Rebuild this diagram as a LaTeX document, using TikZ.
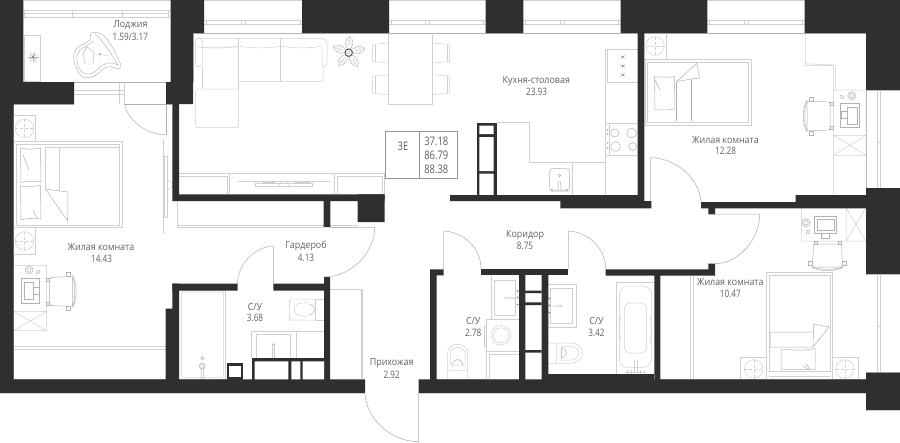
\documentclass[tikz,border=0pt]{standalone}
\usepackage{fontspec}
\setmainfont{Open Sans}
\newfontfamily\numf[FakeStretch=0.8]{Open Sans}
\newfontfamily\labf[FakeStretch=0.91]{Open Sans}
\definecolor{wallc}{HTML}{2F2F2F}
\definecolor{linec}{HTML}{D0D0D0}
\definecolor{edgec}{HTML}{B2B2B2}
\definecolor{textc}{HTML}{626262}
\tikzset{
  wall/.style={fill=wallc,draw=none},
  hole/.style={fill=white,draw=none},
  fur/.style={draw=linec,line width=.5pt},
  edge/.style={draw=edgec,line width=.55pt},
  doorl/.style={draw=edgec,line width=.55pt},
  lab/.style={text=textc,font=\labf\fontsize{9.8}{10}\selectfont,inner sep=0pt},
  num/.style={text=textc,font=\numf\fontsize{10.2}{11}\selectfont,inner sep=0pt},
  big/.style={text=textc,font=\numf\fontsize{11.8}{12}\selectfont,inner sep=0pt},
  pics/deskchair/.style={code={
    \draw[fur,rounded corners=2pt,draw=edgec] (-12,-14) -- (11,-15) -- (11,15) -- (-12,14) -- cycle;
    \draw[fur,draw=edgec] (11,-16) .. controls (16,-8) and (16,8) .. (11,16);
    \draw[fur,draw=edgec] (11,-15) .. controls (14,-8) and (14,8) .. (11,15);
    \draw[fur,draw=edgec] (-15,-13.5) rectangle (-12,-10.5) (-15,10.5) rectangle (-12,13.5);
    \draw[fur,draw=edgec] (5,-19) rectangle (9,-15) (5,15) rectangle (9,19);
  }},
  pics/nstand/.style={code={
    \draw[fur] (0,0) circle (9.3);
    \draw[fur,densely dashed,line width=.35pt] (-9.3,0) -- (9.3,0) (0,-9.3) -- (0,9.3);
  }},
  pics/flower/.style={code={
    \foreach \a in {15,87,159,231,303}{
      \draw[fur,draw=edgec,line width=.45pt,rotate=\a] (2.5,0) .. controls (6,-5) and (13,-5) .. (16.5,0) .. controls (13,5) and (6,5) .. (2.5,0);
      \draw[fur,rotate=\a,line width=.35pt] (3,0) -- (16,0) (7,-3) -- (10,0) -- (7,3) (10,-3) -- (13,0) -- (10,3);
    }
    \draw[draw=wallc!85,line width=.9pt,fill=white] (0,0) circle (3.7);
    \draw[edgec,line width=.35pt] (0,0) circle (1.7);
  }}
}
\begin{document}
\begin{tikzpicture}[x=1pt,y=-1pt]
\useasboundingbox (0,0) rectangle (900,442);
\fill[white] (0,0) rectangle (900,442);

% ---- room outlines and windows
\draw[fur] (23,.6) -- (171,.6) (204,.6) -- (302,.6) (389,.6) -- (486,.6) (523,.6) -- (621,.6) (707,.6) -- (805,.6);
\draw[edge] (23.3,82) -- (170.7,82) (193,33.3) -- (804.7,33.3) (804.7,33.3) -- (866,33.3);
\draw[edge] (193,33.3) -- (193,82) (124,104) -- (172,104) (13.5,104) -- (74,104) (13.7,104) -- (13.7,379.3) (13.7,379.3) -- (165.7,379.3);
\draw[edge] (866,33.3) -- (866,195) (179,379) -- (227,379) (660,379.3) -- (866,379.3) (436.7,379.3) -- (519,379.3);
% loggia window
\draw[fur] (23,10.7) -- (170.7,10.7) (23,17.3) -- (170.7,17.3);
\draw[fur,densely dashed,line width=.8pt] (24,13) -- (72,13);
\draw[fur] (24,13) -- (168,13);
\foreach \x in {24.3,72,122,168}{\draw[fur] (\x,10.7) -- (\x,17.3);}
% top windows
\foreach \p/\q in {204/302,389/485.7,523.3/620.7,707.3/804.7}{
  \draw[fur] (\p,20) -- (\q,20) (\p,24) -- (\q,24);
  \draw[fur] (\p+2,20) -- (\p+2,24) (\q-2,20) -- (\q-2,24);
  \draw[fur] ({(\p+\q)/2-12},20) -- ({(\p+\q)/2-12},24) ({(\p+\q)/2-8},20) -- ({(\p+\q)/2-8},24);
}
% right windows
\foreach \p/\q in {90/188,274/372.7}{
  \draw[fur] (877,\p) -- (877,\q) (880,\p) -- (880,\q) (866,\p) -- (900,\p) (866,\q) -- (900,\q);
  \draw[fur] (877,{(\p+\q)/2+3}) -- (880,{(\p+\q)/2+3});
}
% loggia door and window
\draw[fur] (74,90.3) -- (124,90.3) (74,94.3) -- (124,94.3) (119.7,82) -- (119.7,104) (124,82) -- (124,104);
\draw[doorl] (166,82) -- (166,134.7);
\draw[doorl] (124.5,104) .. controls (127,119) and (145,134.7) .. (166,134.7);

% ---- loggia furniture
\draw[fur] (24,35.3) rectangle (40.5,81);
\foreach \a in {0,30,...,330}{\draw[draw=edgec,line width=.35pt] (33,57) -- ++(\a:{mod(\a,60)==0?5.5:4.5});}
\fill[edgec!70!black] (33,57) circle (1.1);
\draw[fur,draw=edgec,line width=.45pt] (91,33) .. controls (96,31) and (102,33) .. (107,39) .. controls (113,47) and (117,56) .. (121,65) .. controls (121,69) and (118,70) .. (115,68) .. controls (109,65) and (105,67) .. (101,71) .. controls (94,78) and (83,81) .. (79,73) .. controls (74,65) and (71,55) .. (77,48) .. controls (81,44) and (86,44) .. (90,40) -- cycle;
\draw[fur,draw=edgec,line width=.45pt] (95,34) .. controls (100,38) and (108,48) .. (118,65) .. controls (110,61) and (104,63) .. (98,69) .. controls (92,75) and (85,76) .. (81,71) .. controls (76,63) and (75,55) .. (80,50) .. controls (86,45) and (90,45) .. (93,41);
\draw[fur,draw=edgec,line width=.45pt] (87,47) -- (94,52) -- (93,64) -- (85,64) -- (83,53) -- cycle;
\draw[fur,line width=.35pt] (100,46) -- (100,62) (94,54) -- (110,56);
\draw[fur,draw=edgec] (100,54) circle (1);

% ---- sofa
\draw[fur,rounded corners=2pt] (195.7,38.3) -- (195.7,66.7) -- (202.7,66.7) -- (202.7,39) -- cycle;
\draw[fur,rounded corners=2pt] (202.7,47) -- (238.7,47) (195.7,89) -- (238.7,89) -- (238.7,127.7) -- (195.7,127.7) -- cycle;
\draw[fur] (202.7,66.7) -- (202.7,89) (238.7,38) -- (238.7,89) (280.7,38) -- (280.7,81.3);
\draw[fur,rounded corners=2pt] (238.7,81.3) -- (323,81.3) -- (323,66);
\draw[fur,rounded corners=3pt] (197,38.3) -- (322,38.3) -- (327,41) -- (327,66) -- (322,66.7) -- (322,47);
\draw[fur] (197,47) .. controls (215,48.5) and (225,48.5) .. (238.7,46) .. controls (250,48.5) and (270,48.5) .. (280.7,46) .. controls (295,48.5) and (310,48.5) .. (322,46);
% plant
\pic at (348.7,52.7) {flower};
% table and chairs
\draw[fur] (388.5,33.3) -- (388.5,104.3) -- (432.7,104.3) -- (432.7,33.3);
\foreach \t in {43,74.7}{
  \draw[fur] (388.5,\t) -- (372.7,{\t+1.5}) -- (372.7,{\t+18.5}) -- (388.5,{\t+20});
  \draw[fur] (375,{\t+1.5}) -- (375,{\t+18.5});
  \draw[fur] (432.7,\t) -- (449.7,{\t+1.5}) -- (449.7,{\t+18.5}) -- (432.7,{\t+20});
  \draw[fur] (447.3,{\t+1.5}) -- (447.3,{\t+18.5});
}
% kitchen counter
\draw[fur] (496.7,122.7) -- (529,122.7) -- (529,162.7) -- (605.7,162.7);
\draw[fur] (572.3,162.7) -- (572.3,195) (605.7,49) -- (605.7,195);
\draw[fur] (605.7,49.7) -- (637.7,49.7) (607.3,50) -- (607.3,82) -- (637.7,82) (605.7,123) -- (637.7,123) (605.7,155.5) -- (637.7,155.5) (609.5,123) -- (609.5,155.5);
\draw[fur,rounded corners=3pt,draw=edgec] (549.5,168.7) rectangle (569.5,191);
\draw[fur,draw=edgec] (558.5,181) -- (558,190) (560.5,181) -- (561,190) (552,190) -- (567,190);
\draw[fur,draw=edgec] (559.5,175.5) circle (1.2) (552,190.3) circle (1) (567,190.3) circle (1);
\foreach \y in {57,66,75}{\draw[edgec,line width=.4pt] (620.5,\y-1.8) -- (625,\y+1.8) (620.5,\y+1.8) -- (625,\y-1.8); \fill[textc] (622.7,\y) circle (.9);}
\draw[edgec,line width=.5pt] (614.7,133) circle (4) (631.7,133) circle (4.8) (615.5,146.5) circle (4.8) (632.7,146.5) circle (4);
\foreach \y in {130,134,143,148}{\fill[edgec] (607.5,\y) circle (1);}
% info table
\draw[draw=gray!85,line width=.6pt] (385.3,131.7) rectangle (457.3,178.3) (419.5,131.7) -- (419.5,178.3);
% TV stand
\draw[fur] (179,173.5) -- (384.7,173.5) -- (384.7,194) (229.3,173.5) -- (229.3,194) (334.3,173.5) -- (334.3,194);
\draw[fur] (179,176) -- (227,176) -- (227,194) (337,194) -- (337,176) -- (382,176) -- (382,194);
\draw[fur] (238,181.7) -- (330,181.7) (255,183) rectangle (312.7,186);
\draw[fur] (278.7,186) arc[start angle=180,end angle=360,radius=5];
\draw[fur,line width=.8pt] (262,181.9) -- (275,181.9) (295,181.9) -- (310,181.9);
% wardrobe
\draw[fur] (163.7,139) -- (163.7,234) (177.3,201) -- (177.3,227) (177.3,225) -- (324,225) (177.3,227.3) -- (324,227.3) (330,225) -- (357.7,225) (330,227.3) -- (357.7,227.3);
\draw[fur] (164.7,156) rectangle (167.3,217);
\draw[fur] (167.3,180) arc[start angle=-90,end angle=90,radius=5];

% ---- room 14.43
\pic at (24.5,128.5) {nstand};
\pic at (24.5,241) {nstand};
\draw[fur] (13.7,115.3) rectangle (35.3,141.3) (13.7,227.7) rectangle (35.3,254.3);
\draw[fur] (13.7,141.3) rectangle (122,227.7) (16,144) rectangle (119,225.5);
\draw[fur] (45.5,147) -- (45.5,189) (59.7,147) -- (59.7,191) (45.5,147) -- (119,147);
\draw[fur,draw=edgec] (45.5,189) -- (68,192) -- (67.7,221) -- cycle;
\draw[fur,draw=edgec] (20.5,148) .. controls (30,150) and (34,149) .. (40.5,148) -- (41,182) .. controls (32,181) and (28,181) .. (21,182.5) -- cycle;
\draw[fur,draw=edgec] (20.5,186) .. controls (30,187) and (34,186) .. (40.5,185.5) -- (41,219) .. controls (32,218) and (28,218) .. (21,220) -- cycle;
\draw[fur,draw=edgec] (23,155) -- (29,170) (33,210) -- (37,218);
\draw[fur] (13.7,265.3) rectangle (46.7,311.3) (13.7,311.3) rectangle (46.7,330.7) (13.7,311.3) -- (46.7,330.7) (46.7,311.3) -- (13.7,330.7);
\draw[fur,draw=edgec] (21,278) rectangle (39,303) (24,282) -- (24,299) -- (33,299) -- (33,282) -- cycle (33,287) rectangle (39,294);
\draw[fur,draw=edgec] (29,270) circle (4) (29,270) circle (2.2);
\draw[fur,draw=edgec,rotate around={40:(38,272)}] (38,272) ellipse (2.2 and 1.3);
\pic at (61.5,291.5) {deskchair};
\draw[fur,line width=.8pt] (13.7,346.4) -- (165.7,346.4) (13.7,349.6) -- (165.7,349.6);

% ---- doors
\draw[doorl] (273.3,246) -- (273.3,284) (273.3,246) .. controls (255,246.5) and (237.5,264) .. (237.5,284);
\draw[doorl] (330,227.3) -- (374.7,227.3) .. controls (374.7,252) and (352,277) .. (324,277);
\draw[doorl] (365,393) .. controls (366,419) and (391,441.7) .. (418.7,441.7) -- (418.7,393);
\draw[doorl] (443.7,269) -- (443.7,231) .. controls (464,232) and (481,248) .. (481,269);
\draw[doorl] (568.3,269) -- (568.3,231) .. controls (588,232) and (605.7,248) .. (605.7,269.3);
\draw[doorl] (650.7,208) -- (650.7,157.7) .. controls (676,158) and (699,178) .. (701,201.7);
\draw[doorl] (715,214.2) -- (759.7,214.2) .. controls (759.7,240) and (738,263.7) .. (715,263.7);

% ---- bathroom 3.68
\draw[fur] (179,290.7) -- (225.7,290.7) -- (225.7,379);
\draw[fur,rounded corners=2pt] (181.7,292) rectangle (223.7,377.3);
\draw[fur,draw=edgec] (201,364) -- (201,379) (203.5,364) -- (203.5,379) (202.3,358) circle (1.7) (202.3,366) circle (3);
\draw[fur] (251.3,358.3) -- (251.3,331) -- (324,331) (296,331) -- (296,358.3);
\draw[fur] (256,358) -- (256,334.3) -- (290.7,334.3) -- (290.7,358);
\draw[fur,draw=edgec] (272.3,347) -- (272.3,358) (274.6,347) -- (274.6,358) (273.5,345) circle (1.4);
\draw[fur,rounded corners=8pt] (315,299) -- (298,299) .. controls (291,299) and (289.3,305) .. (289.3,309.5) .. controls (289.3,314) and (291,320) .. (298,320) -- (315,320);
\draw[fur] (315,299.5) -- (315,320) (315,299.5) -- (324,299.5) (315,320) -- (324,320);
\draw[fur] (309,303) .. controls (298,302) and (294,305) .. (294,309.5) .. controls (294,314) and (298,317) .. (309,316);
\draw[fur,draw=edgec] (309,304) arc[start angle=-90,end angle=90,radius=5.5];
% hall closet
\draw[fur] (330,289.3) -- (362.7,289.3) -- (362.7,379) (361,289.3) -- (361,379);

% ---- bathroom 2.78
\draw[fur] (491.7,275.3) -- (491.7,319) (494.3,280) rectangle (515.7,315) (486.3,319) rectangle (519,351);
\draw[fur] (501,335.3) circle (9.7) (501,335.3) circle (7.5);
\draw[fur] (484.5,326) rectangle (486.3,346);
\draw[fur] (486.3,351) rectangle (519,379) (489,354) -- (519,354) (489,354) -- (489,379);
\draw[fur] (507,297) -- (516,297) (507,298.7) -- (516,298.7) (505.5,297.8) circle (1);
\foreach \y in {291,297.5,304.5}{\fill[edgec!75!black] (517.5,\y) circle (1);}
\draw[fur,rounded corners=2pt] (447.5,379) -- (447.5,370.7) -- (467.7,370.7) -- (467.7,379);
\draw[fur] (447.7,370.7) -- (447.7,354) .. controls (447.7,347) and (453,344.3) .. (457.7,344.3) .. controls (462.4,344.3) and (467.7,347) .. (467.7,354) -- (467.7,370.7);
\draw[fur] (450.5,365) -- (450.5,354) .. controls (450.5,350) and (454,347.5) .. (457.7,347.5) .. controls (461.4,347.5) and (465,350) .. (465,354) -- (465,365) -- cycle;
\draw[fur,draw=edgec] (452,365) arc[start angle=180,end angle=360,radius=5.5];

% ---- bathroom 3.42
\draw[fur] (548,284) -- (576.3,284) -- (576.3,327.7) -- (548,327.7) (550.3,288) rectangle (572.7,323);
\draw[fur] (553,305) -- (560,305) (553,306.7) -- (560,306.7) (561,305.8) circle (1);
\foreach \y in {298.5,305.5,312.5}{\fill[edgec!75!black] (549.3,\y) circle (1);}
\draw[fur] (548,343) -- (571,343) .. controls (578,343) and (582.7,348) .. (582.7,353) .. controls (582.7,358) and (578,363.3) .. (571,363.3) -- (548,363.3) (556.7,343) -- (556.7,363.3);
\draw[fur] (561,346.5) -- (571,346.5) .. controls (576,346.5) and (579,350) .. (579,353) .. controls (579,356) and (576,360) .. (571,360) -- (561,360) -- cycle;
\draw[fur,draw=edgec] (561.5,348) arc[start angle=-90,end angle=90,radius=5] -- cycle;
% bath
\draw[fur] (654.3,282) -- (616.3,282) -- (616.3,374.3);
\draw[fur,rounded corners=9pt] (619.3,286) rectangle (651.7,367.7);
\draw[fur,rounded corners=6pt] (624.3,303) rectangle (646.7,353);
\draw[fur] (621,315) .. controls (619,330) and (619,330) .. (621,342) (650,315) .. controls (652,330) and (652,330) .. (650,342);
\draw[fur] (634,360) -- (634,372) (637,360) -- (637,372) (626,372) -- (645,372) (626,373.8) -- (645,373.8);
\foreach \x in {627,631,640,644}{\draw[fur] (\x,370) -- (\x,374);}

% ---- room 12.28
\draw[fur] (644,59.5) -- (666,59.5) -- (666,33.3);
\pic at (655,46) {nstand};
\draw[fur] (645.3,59.5) rectangle (751.7,125.3) (647.7,62.5) rectangle (748.5,122);
\draw[fur,draw=edgec] (654.5,76.5) .. controls (660,77.5) and (670,77.5) .. (674.5,76.5) -- (675,109) .. controls (668,110) and (660,110) .. (655,110) -- cycle;
\draw[fur,draw=edgec] (655,80) -- (660,90);
\draw[fur,draw=edgec] (691,121) -- (691,79) (676.5,121) -- (676.5,82);
\draw[fur,draw=edgec] (676.5,81.7) -- (696.7,63.3) -- (699.7,78) -- (691,79) -- (676.5,81.7);
\draw[fur] (805.3,33.3) -- (805.3,65.7) -- (835.7,65.7) -- (835.7,90) (805.3,63.7) -- (833,65) (833.3,67) -- (833.3,90);
\draw[fur] (833.7,90) rectangle (866,135.3) (833.7,135.3) rectangle (866,155.3) (833.7,135.3) -- (866,155.3) (866,135.3) -- (833.7,155.3) (833.7,155.3) -- (833.7,195);
\draw[fur,draw=edgec] (840.7,103) rectangle (859,127.7) (847,107) rectangle (857,124) (841.7,111) rectangle (847,118);
\draw[fur,draw=edgec] (851.7,95.7) circle (4) (851.7,95.7) circle (2.2);
\draw[fur,draw=edgec,rotate around={-30:(842,97)}] (842,97) ellipse (2.2 and 1.3);
\pic[rotate=180] at (818,116) {deskchair};

% ---- room 10.47
\draw[fur] (690.7,275.5) -- (690.7,379.3) (693.7,275.5) -- (693.7,379.3);
\draw[fur] (801.7,208) -- (801.7,241) -- (866,241) (846,208) -- (846,241) (846,208) -- (866,241) (866,208) -- (846,241);
\draw[fur,draw=edgec] (814,216) rectangle (836.7,233.3) (817,219) rectangle (834,230) (821.5,233.3) rectangle (829.5,238);
\draw[fur,draw=edgec] (806,222.7) circle (4) (806,222.7) circle (2.2);
\draw[fur,draw=edgec,rotate around={60:(808,232)}] (808,232) ellipse (2.2 and 1.3);
\pic[rotate=-90] at (827.5,256) {deskchair};
\draw[fur] (766.7,272.7) rectangle (832.3,379.3) (769,275) rectangle (830,371.7) (769,376) -- (830,376);
\draw[fur,draw=edgec] (770,332) -- (813.5,332) (770,332) -- (770,347) -- (813,347) -- (829,327) -- (813.7,324) -- (813,347);
\draw[fur,draw=edgec] (781,349) .. controls (790,350) and (805,351) .. (815,348.5) -- (815,370) .. controls (805,369) and (792,369) .. (781,370) -- cycle;
\draw[fur,draw=edgec] (803,366) -- (808,369) (806,364) -- (810,369);
\draw[fur] (740.3,379.3) -- (740.3,357.3) -- (766.7,357.3) (832.3,357.3) -- (858.3,357.3) -- (858.3,379.3);
\pic at (753.7,369) {nstand};
\pic at (845,369) {nstand};

% ---- walls
\fill[wall] (0,0) rectangle (23.3,104) (0,82) rectangle (74,104) (0,104) rectangle (13.5,393);
\fill[wall] (170.7,0) rectangle (204,33) (170.7,33) rectangle (193,82) (166,82) rectangle (193,104);
\fill[wall] (172.3,104) rectangle (179,201) (172.3,194.3) rectangle (384.7,201);
\fill[wall] (357.7,194.3) rectangle (384.7,222) (323.7,201) rectangle (330.3,227);
\fill[wall] (302,0) rectangle (389,33) (485.7,0) rectangle (523.3,33) (620.7,0) rectangle (707.3,33);
\fill[wall] (804.7,0) rectangle (900,33) (866,33) rectangle (900,90) (866,188) rectangle (900,274) (866,372.7) rectangle (900,410);
\fill[wall] (637.7,33) rectangle (644.3,201) (450,195) rectangle (644.3,201) (560.3,201) rectangle (651.3,208.3);
\fill[wall] (701,202) rectangle (795.7,208.3) (795.7,195) rectangle (866,208.3) (708.3,208) rectangle (715,214.3);
\fill[wall] (605.7,269.3) rectangle (715,275.7) (708.3,263.7) rectangle (715,275.7) (654.3,275) rectangle (660.3,380);
\fill[wall] (0,379.3) rectangle (365,393) (418.7,379.3) rectangle (866,393);
\fill[wall] (172.3,283.7) rectangle (237.5,290.7) (273.3,283.7) rectangle (330,290.7) (324,277) rectangle (330,380);
\fill[wall] (172.3,283.7) rectangle (179,309) (165.7,308.7) rectangle (179,380);
\fill[wall] (227,363) rectangle (243,380);
\fill[hole] (229.3,365.5) rectangle (240.7,376.5);
\fill[wall] (252,358.3) rectangle (324,380);
\fill[hole] (254.7,361.3) rectangle (288.3,379.3) (291.3,361.3) rectangle (300.3,379.3) (302.7,361.3) rectangle (324,379.3);
\fill[wall] (430,269.3) rectangle (436.7,380) (430,269.3) rectangle (443.7,275.3);
\fill[wall] (481,269.3) rectangle (568.3,275.3);
\fill[wall] (519,275) rectangle (525.3,380) (541.7,275) rectangle (548.3,380);
\fill[wall] (525,290.7) rectangle (541.7,293.2) (525,302.3) rectangle (541.7,305) (525,350) rectangle (541.7,352.5);
\fill[wall] (548,374.3) rectangle (654.3,380);
\fill[wall] (476.5,122.7) rectangle (496.7,195);
\fill[hole] (479.3,125.5) rectangle (493.7,134.2) (479.3,137.2) rectangle (493.7,171) (479.3,173.7) rectangle (493.7,194.8);
\draw[fur] (0,393.4) -- (365,393.4) (418.7,393.4) -- (866,393.4);
\draw[fur] (866,410.5) -- (900,410.5);

% ---- labels
\node[lab] (t1) at (130.5,25) {Лоджия};
\node[num] (t1b) at (130.3,36.7) {1.59/3.17};
\node[lab] (t2) at (536.3,81) {Кухня-столовая};
\node[num] (t2b) at (536.5,92.3) {23.93};
\node[lab] (t3) at (725.5,140) {Жилая комната};
\node[num] (t3b) at (725.5,151.3) {12.28};
\node[lab] (t4) at (101,247.3) {Жилая комната};
\node[num] (t4b) at (101.5,258.7) {14.43};
\node[lab] (t5) at (306,246) {Гардероб};
\node[num] (t5b) at (306,257.7) {4.13};
\node[lab] (t6) at (255,306.7) {С/У};
\node[num] (t6b) at (255,318.3) {3.68};
\node[lab] (t7) at (525,235) {Коридор};
\node[num] (t7b) at (525,246.3) {8.75};
\node[lab] (t8) at (473.3,321) {С/У};
\node[num] (t8b) at (473.3,332.7) {2.78};
\node[lab] (t9) at (596.5,321) {С/У};
\node[num] (t9b) at (596.5,332.7) {3.42};
\node[lab] (t10) at (391.7,363.3) {Прихожая};
\node[num] (t10b) at (391.7,374.7) {2.92};
\node[lab] (t11) at (730.3,282.3) {Жилая комната};
\node[num] (t11b) at (730.3,293.7) {10.47};
\node[big] (i0) at (403,146.5) {3E};
\node[big] (i1) at (436.3,141) {37.18};
\node[big] (i2) at (436.3,155.3) {86.79};
\node[big] (i3) at (436.3,169.5) {88.38};
\end{tikzpicture}
\end{document}
